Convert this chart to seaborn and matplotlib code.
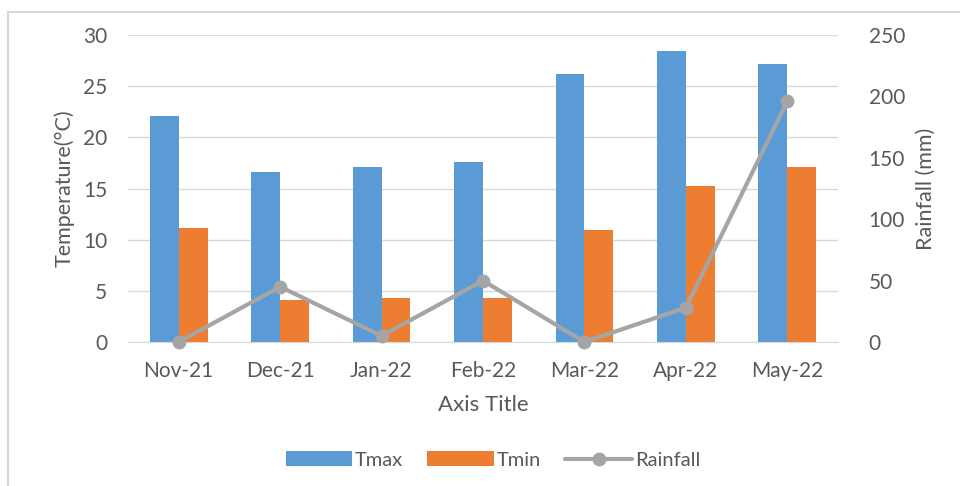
import numpy as np
import pandas as pd
import matplotlib.pyplot as plt
import seaborn as sns
from matplotlib.patches import Rectangle, Patch
from matplotlib.lines import Line2D

months = ['Nov-21', 'Dec-21', 'Jan-22', 'Feb-22', 'Mar-22', 'Apr-22', 'May-22']
tmax = [22.1, 16.6, 17.1, 17.6, 26.2, 28.4, 27.2]
tmin = [11.1, 4.1, 4.3, 4.3, 10.9, 15.2, 17.1]
rainfall = [0, 45, 5, 50, 0, 28, 196]

text_grey = '#595959'
grid_grey = '#D9D9D9'
blue = '#5B9BD5'
orange = '#ED7D31'
line_grey = '#A5A5A5'

bars = pd.DataFrame({
    'Month': months * 2,
    'Temp': tmax + tmin,
    'Series': ['Tmax'] * len(months) + ['Tmin'] * len(months),
})

sns.set_style('white')
plt.rcParams['font.family'] = ['Lato', 'DejaVu Sans']

fig = plt.figure(figsize=(9.6, 4.86), dpi=100)
ax = fig.add_axes([128 / 960, 1 - 342 / 486, 710 / 960, 307 / 486])

sns.barplot(data=bars, x='Month', y='Temp', hue='Series', order=months,
            palette=[blue, orange], width=0.57, gap=0, ax=ax, legend=False,
            saturation=1, edgecolor='none')

ax.set_ylim(0, 30)
ax.set_yticks(range(0, 31, 5))
ax.set_xlim(-0.5, len(months) - 0.5)
ax.yaxis.grid(True, color=grid_grey, linewidth=1)
ax.set_axisbelow(True)
for s in ['top', 'right', 'left']:
    ax.spines[s].set_visible(False)
ax.spines['bottom'].set_color(grid_grey)
ax.tick_params(axis='y', colors=text_grey, labelsize=15, length=0, pad=15)
ax.tick_params(axis='x', colors=text_grey, labelsize=15, length=0, pad=14)
ax.set_xlabel('Axis Title', color=text_grey, fontsize=16, labelpad=10)
ax.set_ylabel('Temperature(°C)', color=text_grey, fontsize=15.5, labelpad=6)

ax2 = ax.twinx()
sns.lineplot(x=np.arange(len(months)), y=rainfall, ax=ax2, color=line_grey,
             linewidth=3, marker='o', markersize=10, markeredgewidth=0,
             clip_on=False)
ax2.set_ylim(0, 250)
ax2.set_yticks(range(0, 251, 50))
for s in ['top', 'right', 'left', 'bottom']:
    ax2.spines[s].set_visible(False)
ax2.tick_params(axis='y', colors=text_grey, labelsize=15, length=0, pad=22)
ax2.set_ylabel('Rainfall (mm)', color=text_grey, fontsize=15.5, labelpad=8)

handles = [
    Patch(facecolor=blue, edgecolor='none'),
    Patch(facecolor=orange, edgecolor='none'),
    Line2D([0], [0], color=line_grey, linewidth=3, marker='o', markersize=10,
           markeredgewidth=0),
]
fig.legend(handles, ['Tmax', 'Tmin', 'Rainfall'], loc='center',
           bbox_to_anchor=(493 / 960, 1 - 460 / 486), ncol=3, frameon=False,
           fontsize=14.5, labelcolor=text_grey, handlelength=3.3,
           handleheight=0.7, columnspacing=1.2, handletextpad=0.15)

fig.patches.append(Rectangle((8 / 960, -0.1), 1.1, 1 - 12 / 486 + 0.1,
                             transform=fig.transFigure, fill=False,
                             edgecolor=grid_grey, linewidth=1.5))

fig.savefig('out.png', dpi=100)
